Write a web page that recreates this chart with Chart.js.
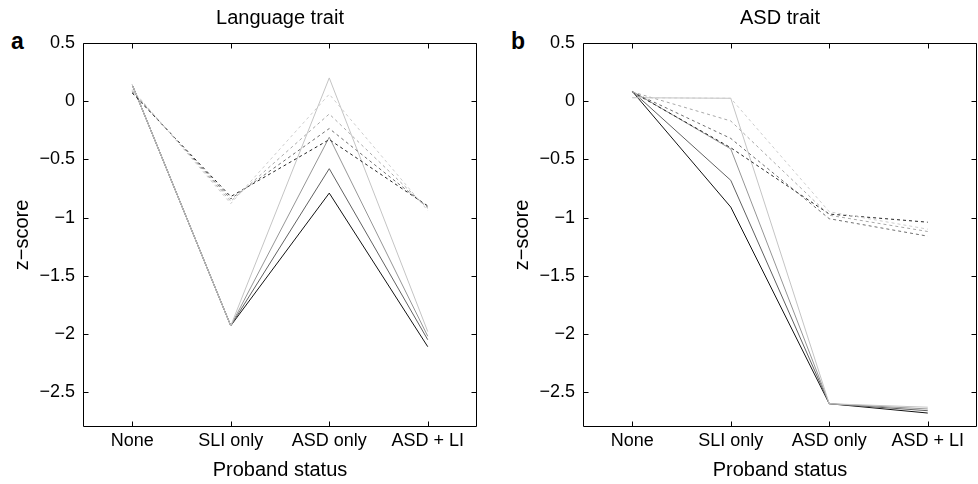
<!DOCTYPE html>
<html>
<head>
<meta charset="utf-8">
<script src="https://cdn.jsdelivr.net/npm/chart.js@4.4.1/dist/chart.umd.min.js"></script>
<style>
  html, body { margin: 0; padding: 0; background: #fff; }
  body { width: 978px; height: 484px; position: relative; overflow: hidden; }
  canvas { position: absolute; top: 0; }
  .letter { position: absolute; font-family: 'Liberation Sans', Arial, sans-serif; font-weight: bold; font-size: 23px; line-height: 23px; color: #000; }
</style>
</head>
<body>
<div class="letter" style="left:11px; top:30px;">a</div>
<div class="letter" style="left:511px; top:30px;">b</div>
<canvas id="ca" width="489" height="484" style="left:0px;"></canvas>
<canvas id="cb" width="478" height="484" style="left:500px;"></canvas>
<script>
// ---- data ----
const categories = ['None', 'SLI only', 'ASD only', 'ASD + LI'];
const yTicks = [0.5, 0, -0.5, -1, -1.5, -2, -2.5];

// Panel a: Language trait
const langSolidBlack     = [0.14, -1.93, -0.79, -2.11];
const langSolidDark      = [0.14, -1.93, -0.58, -2.05];
const langSolidGray      = [0.14, -1.93, -0.31, -2.02];
const langSolidLight     = [0.14, -1.93,  0.20, -1.98];
const langDashedDark     = [0.07, -0.82, -0.33, -0.90];
const langDashedMid      = [0.08, -0.84, -0.235, -0.91];
const langDashedLight    = [0.09, -0.86, -0.11, -0.92];
const langDashedLightest = [0.10, -0.88,  0.06, -0.94];

// Panel b: ASD trait
const asdSolidBlack     = [0.085, -0.91, -2.60, -2.68];
const asdSolidDark      = [0.085, -0.68, -2.60, -2.66];
const asdSolidGray      = [0.085, -0.41, -2.60, -2.645];
const asdSolidLight     = [0.03,  0.025, -2.60, -2.63];
const asdDashedDark     = [0.08, -0.40, -0.97, -1.04];
const asdDashedMid      = [0.08, -0.32, -1.01, -1.16];
const asdDashedLight    = [0.08, -0.17, -0.98, -1.12];
const asdDashedLightest = [0.03, 0.025, -0.95, -1.10];

// ---- styles ----
const FONT = "'Liberation Sans', Arial, sans-serif";
const C = { black: '#111111', dark: '#606060', gray: '#959595', light: '#c4c4c4',
            dDark: '#222222', dMid: '#6e6e6e', dLight: '#a8a8a8', dLightest: '#cdcdcd' };
const DASH = [3, 3];

function ds(data, color, dashed) {
  return { data, borderColor: color, backgroundColor: color, borderWidth: 1,
           borderDash: dashed ? DASH : [], pointRadius: 0, tension: 0, fill: false };
}

function fmt(v) {
  if (v < 0) return '\u2212' + String(Math.abs(v));
  return String(v);
}

const framePlugin = {
  id: 'frame',
  afterDraw(chart) {
    const { ctx, chartArea: a, scales: { x, y } } = chart;
    const L = Math.round(a.left) + 0.5, R = Math.round(a.right) - 0.5;
    const T = Math.round(a.top) + 0.5, B = Math.round(a.bottom) - 0.5;
    const tl = 5;
    ctx.save();
    ctx.strokeStyle = '#000';
    ctx.lineWidth = 1;
    ctx.setLineDash([]);
    ctx.beginPath();
    ctx.rect(L, T, R - L, B - T);
    categories.forEach((c, i) => {
      const px = Math.round(x.getPixelForValue(i)) + 0.5;
      ctx.moveTo(px, B); ctx.lineTo(px, B - tl);
      ctx.moveTo(px, T); ctx.lineTo(px, T + tl);
    });
    yTicks.forEach(v => {
      const py = Math.round(y.getPixelForValue(v)) + 0.5;
      ctx.moveTo(L, py); ctx.lineTo(L + tl, py);
      ctx.moveTo(R, py); ctx.lineTo(R - tl, py);
    });
    ctx.stroke();
    ctx.restore();
  }
};

function makeChart(id, title, datasets, padRight) {
  const font = { family: FONT, size: 18, weight: 'normal' };
  const tfont = { family: FONT, size: 20, weight: 'normal' };
  return new Chart(document.getElementById(id), {
    type: 'line',
    data: { labels: categories, datasets },
    options: {
      responsive: false, animation: false, devicePixelRatio: 1,
      layout: { padding: { left: 0, right: padRight, top: 0, bottom: 0 } },
      plugins: {
        legend: { display: false }, tooltip: { enabled: false },
        title: { display: true, text: title, fullSize: false, color: '#000',
                 font: tfont, padding: { top: 6, bottom: 13 } }
      },
      scales: {
        x: {
          type: 'category', offset: true,
          grid: { display: false, drawTicks: false }, border: { display: false },
          ticks: { color: '#000', font, padding: 3, maxRotation: 0, autoSkip: false },
          title: { display: true, text: 'Proband status', color: '#000',
                   font: tfont, padding: { top: 0, bottom: 2 } },
          afterFit: s => { s.height = 57; }
        },
        y: {
          type: 'linear', min: -2.8, max: 0.5,
          afterBuildTicks: s => { s.ticks = yTicks.map(v => ({ value: v })); },
          grid: { display: false, drawTicks: false }, border: { display: false },
          ticks: { color: '#000', font, padding: 8, callback: v => fmt(v) },
          title: { display: true, text: 'z\u2212score', color: '#000',
                   font: tfont, padding: { top: 10, bottom: 0 } },
          afterFit: s => { s.width = 83; }
        }
      }
    },
    plugins: [framePlugin]
  });
}

makeChart('ca', 'Language trait', [
  ds(langDashedLightest, C.dLightest, true),
  ds(langDashedLight, C.dLight, true),
  ds(langDashedMid, C.dMid, true),
  ds(langDashedDark, C.dDark, true),
  ds(langSolidLight, C.light, false),
  ds(langSolidGray, C.gray, false),
  ds(langSolidDark, C.dark, false),
  ds(langSolidBlack, C.black, false)
], 12);

makeChart('cb', 'ASD trait', [
  ds(asdDashedLightest, C.dLightest, true),
  ds(asdDashedLight, C.dLight, true),
  ds(asdDashedMid, C.dMid, true),
  ds(asdDashedDark, C.dDark, true),
  ds(asdSolidLight, C.light, false),
  ds(asdSolidGray, C.gray, false),
  ds(asdSolidDark, C.dark, false),
  ds(asdSolidBlack, C.black, false)
], 1);
</script>
</body>
</html>
